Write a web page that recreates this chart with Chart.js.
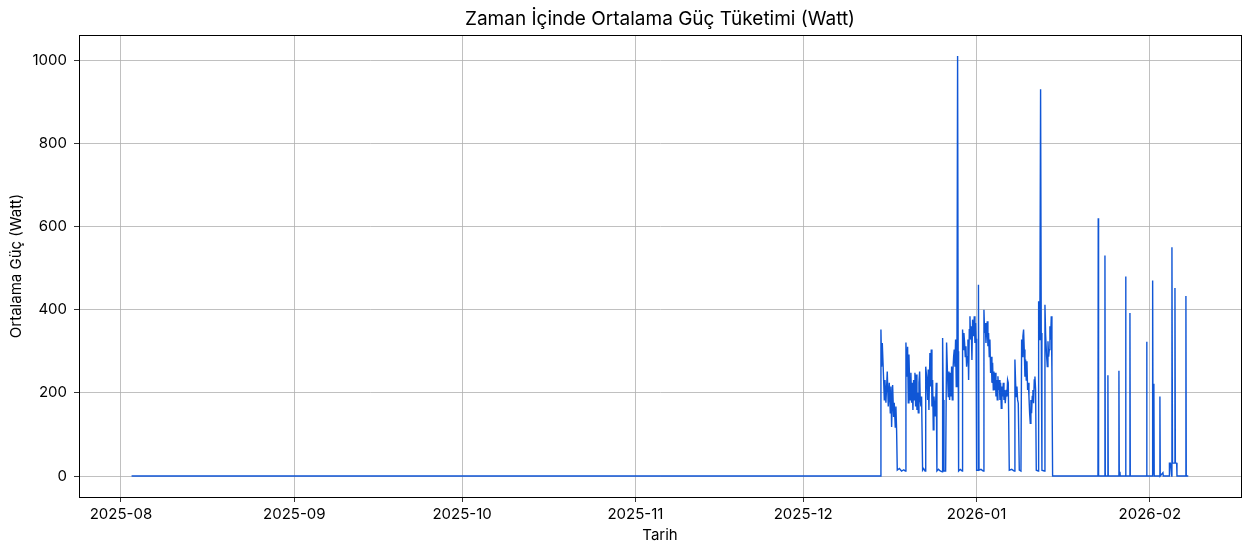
<!DOCTYPE html>
<html>
<head>
<meta charset="utf-8">
<script src="https://cdn.jsdelivr.net/npm/chart.js@4.4.1/dist/chart.umd.min.js"></script>
<style>
  body { margin: 0; background: #fff; }
  #wrap { width: 1251px; height: 552px; }
</style>
</head>
<body>
<div id="wrap"><canvas id="chart" width="1251" height="552"></canvas></div>
<script>
// x values are days since 2025-08-01
const tickDays = [0, 31, 61, 92, 122, 153, 184];
const tickLabels = ["2025-08", "2025-09", "2025-10", "2025-11", "2025-12", "2026-01", "2026-02"];
const yTicks = [0, 200, 400, 600, 800, 1000];

const days = [
  1.9, 135.88, 135.91, 136.03, 136.15, 136.33, 136.51, 136.63, 136.80, 137.04,
  137.22, 137.40, 137.58, 137.70, 137.82, 138.00, 138.18, 138.29, 138.47, 138.59,
  138.71, 138.83, 139.2, 139.6, 140.0, 140.26, 140.38, 140.56, 140.68, 140.80,
  140.92, 141.04, 141.15, 141.27, 141.39, 141.51, 141.63, 141.75, 141.87, 141.99,
  142.11, 142.23, 142.35, 142.47, 142.59, 142.71, 142.83, 142.94, 143.06, 143.18,
  143.36, 143.55, 143.80, 143.92, 144.08, 144.26, 144.37, 144.49, 144.67, 144.79,
  144.91, 145.03, 145.15, 145.27, 145.39, 145.51, 145.63, 145.80, 145.92, 146.2,
  146.5, 146.88, 146.94, 147.06, 147.18, 147.48, 147.65, 147.83, 147.95, 148.07,
  148.19, 148.31, 148.43, 148.55, 148.67, 148.79, 148.91, 149.02, 149.14, 149.26,
  149.38, 149.50, 149.62, 149.72, 149.80, 150.1, 150.45, 150.51, 150.63, 150.75,
  150.87, 150.99, 151.11, 151.23, 151.35, 151.47, 151.59, 151.71, 151.83, 151.95,
  152.06, 152.18, 152.30, 152.48, 152.60, 152.72, 152.84, 152.92, 153.02, 153.27,
  153.35, 153.45, 153.8, 154.21, 154.33, 154.45, 154.57, 154.69, 154.81, 154.93,
  155.04, 155.16, 155.28, 155.40, 155.52, 155.64, 155.76, 155.88, 156.00, 156.12,
  156.24, 156.36, 156.48, 156.59, 156.71, 156.83, 156.95, 157.07, 157.19, 157.31,
  157.43, 157.55, 157.67, 157.79, 157.91, 158.03, 158.14, 158.32, 158.44, 158.56,
  158.68, 158.86, 159.3, 159.75, 159.87, 159.99, 160.11, 160.23, 160.35, 160.47,
  160.65, 160.95, 161.07, 161.19, 161.30, 161.42, 161.54, 161.66, 161.78, 161.90,
  162.02, 162.14, 162.26, 162.38, 162.50, 162.62, 162.73, 162.85, 162.97, 163.09,
  163.21, 163.33, 163.45, 163.57, 163.69, 164.05, 164.11, 164.23, 164.34, 164.46,
  164.58, 164.70, 165.12, 165.24, 165.36, 165.54, 165.66, 165.78, 165.90, 166.02,
  166.13, 166.25, 166.37, 166.49, 166.61, 174.72, 174.77, 174.83, 175.92, 175.97,
  176.03, 176.45, 176.50, 176.56, 178.42, 178.47, 178.53, 178.65, 178.70, 179.62,
  179.67, 179.73, 180.39, 180.44, 180.50, 183.38, 183.43, 183.49, 184.45, 184.50,
  184.58, 184.72, 184.78, 185.75, 185.80, 185.86, 186.34, 186.40, 187.45, 187.50,
  187.68, 187.90, 187.95, 188.05, 188.42, 188.49, 188.56, 188.79, 188.85, 190.40,
  190.45, 190.51, 190.87
];

const watts = [
  0, 0, 352, 263, 320, 255, 183, 231, 176, 251,
  167, 224, 152, 215, 118, 219, 142, 176, 118, 167,
  111, 14, 18, 12, 15, 12, 321, 239, 311, 176,
  292, 224, 183, 248, 176, 224, 159, 231, 183, 248,
  167, 244, 159, 200, 152, 224, 251, 183, 167, 191,
  14, 18, 12, 263, 239, 183, 256, 159, 296, 215,
  304, 167, 231, 111, 191, 167, 143, 224, 12, 16,
  12, 10, 332, 183, 12, 12, 321, 239, 191, 251,
  183, 248, 191, 263, 183, 255, 287, 304, 263, 328,
  215, 279, 1010, 300, 12, 16, 12, 352, 304, 344,
  320, 287, 312, 263, 287, 328, 231, 352, 384, 328,
  360, 279, 376, 336, 384, 320, 368, 330, 14, 14,
  460, 14, 16, 12, 400, 344, 368, 320, 352, 372,
  312, 344, 287, 328, 248, 287, 224, 272, 207, 251,
  207, 248, 191, 231, 183, 240, 207, 231, 183, 224,
  163, 215, 191, 224, 183, 207, 175, 207, 191, 231,
  224, 14, 16, 12, 280, 224, 191, 215, 183, 175,
  14, 12, 328, 287, 336, 352, 304, 239, 280, 231,
  276, 207, 224, 191, 151, 127, 183, 151, 191, 207,
  175, 231, 239, 207, 14, 12, 420, 328, 400, 930,
  344, 14, 12, 412, 340, 287, 263, 324, 287, 304,
  360, 328, 384, 250, 0, 0, 620, 0, 0, 530,
  0, 0, 242, 0, 0, 253, 0, 10, 0, 0,
  480, 0, 0, 392, 0, 0, 323, 0, 0, 470,
  5, 222, 0, 0, 191, 0, 8, 0, 0, 31,
  31, 0, 550, 31, 31, 452, 31, 31, 0, 0,
  433, 0, 0
];

const points = days.map((d, i) => ({ x: d, y: watts[i] }));

const FONT = "Inter, 'DejaVu Sans', sans-serif";

// matplotlib style box around the plot area
const frame = {
  id: "frame",
  afterDatasetsDraw(chart) {
    const { ctx, chartArea: a } = chart;
    ctx.save();
    ctx.strokeStyle = "#000";
    ctx.lineWidth = 1;
    ctx.strokeRect(Math.round(a.left) + 0.5, Math.round(a.top) + 0.5,
      Math.round(a.right - a.left), Math.round(a.bottom - a.top));
    ctx.restore();
  },
};

new Chart(document.getElementById("chart"), {
  type: "line",
  data: {
    datasets: [{
      data: points,
      borderColor: "rgb(16, 86, 214)",
      borderWidth: 1.4,
      pointRadius: 0,
      tension: 0,
      fill: false,
    }],
  },
  options: {
    responsive: false,
    devicePixelRatio: 1,
    animation: false,
    parsing: false,
    layout: { padding: { left: 0, right: 10, top: 0, bottom: 0 } },
    plugins: {
      legend: { display: false },
      tooltip: { enabled: false },
      title: {
        display: true,
        fullSize: false,
        text: "Zaman İçinde Ortalama Güç Tüketimi (Watt)",
        color: "#000",
        font: { family: FONT, size: 19, weight: "normal" },
        padding: { top: 8, bottom: 4.2 },
      },
    },
    scales: {
      x: {
        type: "linear",
        min: -7.5,
        max: 200.3,
        afterFit: (s) => { s.height = 55; },
        afterBuildTicks: (s) => { s.ticks = tickDays.map((v) => ({ value: v })); },
        ticks: {
          color: "#000",
          font: { family: FONT, size: 15 },
          padding: 3,
          maxRotation: 0,
          callback: (v) => tickLabels[tickDays.indexOf(v)],
        },
        grid: { color: "#b0b0b0", lineWidth: 0.8, tickColor: "#000", tickLength: 5 },
        border: { color: "#000" },
        title: {
          display: true,
          text: "Tarih",
          color: "#000",
          font: { family: FONT, size: 15 },
          padding: { top: 0, bottom: 8 },
        },
      },
      y: {
        min: -50.5,
        max: 1060.5,
        afterFit: (s) => { s.width = 79; },
        afterBuildTicks: (s) => { s.ticks = yTicks.map((v) => ({ value: v })); },
        ticks: {
          color: "#000",
          font: { family: FONT, size: 15 },
          padding: 7,
          callback: (v) => String(v),
        },
        grid: { color: "#b0b0b0", lineWidth: 0.8, tickColor: "#000", tickLength: 5 },
        border: { color: "#000" },
        title: {
          display: true,
          text: "Ortalama Güç (Watt)",
          color: "#000",
          font: { family: FONT, size: 15 },
          padding: { top: 7, bottom: 0 },
        },
      },
    },
  },
  plugins: [frame],
});
</script>
</body>
</html>
